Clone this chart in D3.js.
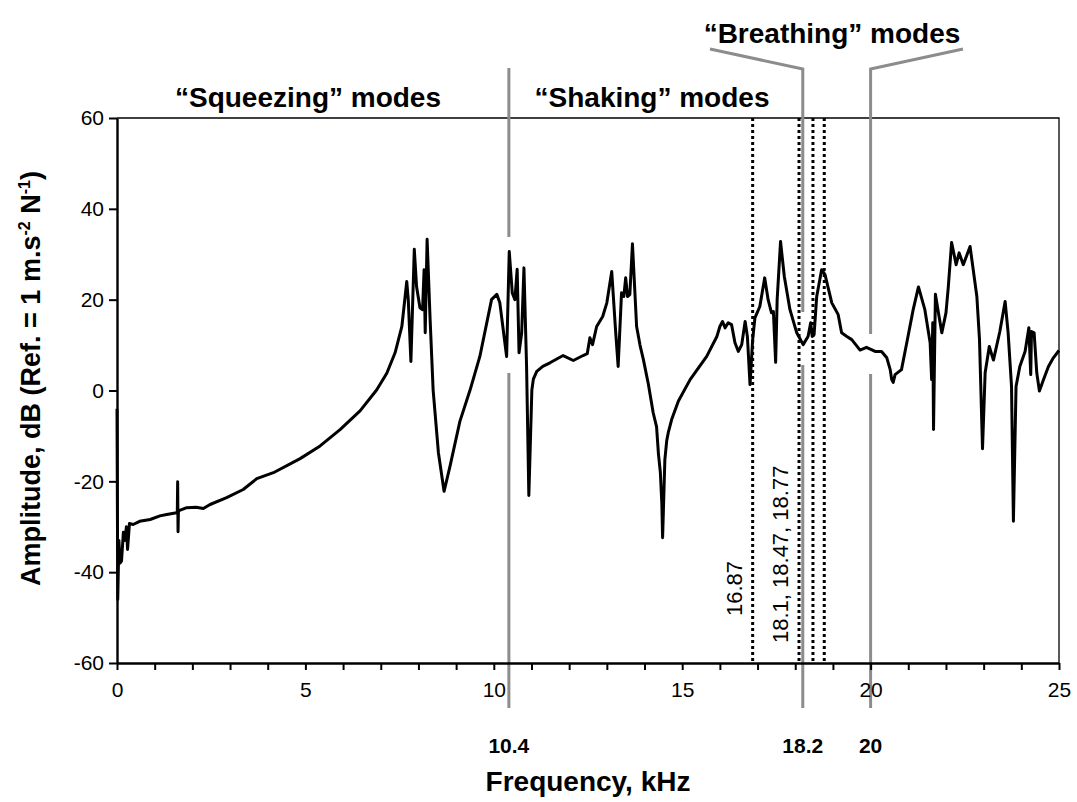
<!DOCTYPE html>
<html><head><meta charset="utf-8">
<script src="https://cdn.jsdelivr.net/npm/d3@7"></script>
<style>
body{margin:0;background:#fff}
text{font-family:"Liberation Sans",Arial,sans-serif;fill:#000}
</style>
</head><body>
<svg id="chart" width="1077" height="802"></svg>
<script>
// ---- data ----
const freq = [0,0.02,0.05,0.08,0.12,0.17,0.21,0.25,0.28,0.33,0.43,0.6,0.88,1.14,1.32,1.58,1.6,1.61,1.62,1.63,1.85,2.1,2.29,2.47,2.91,3.35,3.71,4.15,4.86,5.39,5.92,6.45,6.89,7.16,7.38,7.56,7.69,7.73,7.80,7.89,7.95,8.04,8.11,8.15,8.18,8.23,8.31,8.39,8.53,8.68,8.84,9.10,9.37,9.63,9.94,10.08,10.16,10.34,10.41,10.49,10.56,10.62,10.67,10.74,10.80,10.87,10.93,11.01,11.05,11.14,11.3,11.49,11.84,12.11,12.37,12.48,12.55,12.62,12.73,12.89,13.0,13.13,13.23,13.30,13.39,13.45,13.50,13.55,13.61,13.68,13.79,13.88,13.97,14.1,14.23,14.32,14.37,14.42,14.46,14.48,14.54,14.59,14.63,14.72,14.9,15.21,15.65,15.92,16.00,16.07,16.14,16.22,16.31,16.40,16.49,16.58,16.67,16.73,16.80,16.87,16.93,17.06,17.19,17.28,17.37,17.42,17.48,17.52,17.61,17.71,17.86,18.04,18.21,18.34,18.41,18.45,18.50,18.57,18.70,18.79,18.97,19.14,19.23,19.37,19.50,19.72,19.89,20.12,20.29,20.43,20.52,20.56,20.60,20.65,20.82,20.96,21.13,21.27,21.44,21.58,21.62,21.65,21.67,21.72,21.80,21.89,22.00,22.06,22.15,22.27,22.35,22.46,22.64,22.82,22.89,22.97,23.04,23.15,23.26,23.43,23.57,23.65,23.74,23.79,23.86,23.96,24.10,24.20,24.25,24.27,24.34,24.41,24.48,24.59,24.72,24.85,25.0];
const amp = [-4,-46,-33,-38,-37.5,-31.2,-33,-30,-35,-29.3,-29.5,-28.8,-28.4,-27.6,-27.3,-26.9,-26.9,-20.1,-31.1,-26.5,-25.8,-25.7,-26.0,-25.1,-23.6,-21.8,-19.4,-18.1,-15.0,-12.2,-8.6,-4.5,0.1,3.8,8.3,14.1,24.0,20,6.4,31.1,22.9,18.2,17.8,26.6,12.7,33.3,15.6,0.1,-13.7,-22.2,-16.6,-6.8,0.1,7.5,20,21.2,19.3,7.5,30.6,21.5,20,26.7,8.3,12.7,27.0,5.3,-23.1,0.1,2.5,4.2,5.3,6.1,7.7,6.6,7.7,8.1,11.6,10.1,14.1,16.3,19.3,26.2,13.4,5.3,21.5,20.7,24.8,20.7,21.1,32.3,14.1,10,6.8,1.5,-4.9,-8,-14,-18,-25,-32.4,-15.2,-11,-9.3,-6.4,-2.3,2.4,7.5,11.9,14.1,15.2,13.8,14.9,14.5,10.5,8.6,10.1,15.2,11.9,1.3,11.2,16.0,18.5,24.8,20,17.1,17.4,6.2,20,32.8,25.1,17.8,12.7,10.1,11.9,14.9,11.9,12.3,20.7,26.6,25.5,19.3,16.7,12.7,11.9,11.2,8.9,9.5,8.6,8.6,7.2,4.6,2.4,1.8,3.5,4.6,10.5,17.8,22.8,17.8,10.5,2.4,14.9,-8.6,21.2,17.1,12.7,17.1,22.6,32.6,27.7,30.3,27.7,31.7,20.7,11.2,-12.8,3.9,9.7,6.7,13.0,19.6,12.7,0.9,-28.8,0.9,5.3,8.6,13.8,3.5,13.0,12.7,3.9,-0.1,2.4,5.3,7.2,8.8];

const xMajorTicks = [0,5,10,15,20,25];
const xMinorTicks = d3.range(0, 26, 1);
const yTicks = [-60,-40,-20,0,20,40,60];
const modeBounds = [10.4, 18.2, 20];
const modeBoundLabels = ["10.4","18.2","20"];
const dottedFreqs = [16.87, 18.1, 18.47, 18.77];
const dottedLabels = ["16.87","18.1, 18.47, 18.77"];
const dottedLabelFreqs = [16.87, 18.1];
const regionLabels = ["\u201CSqueezing\u201D modes","\u201CShaking\u201D modes","\u201CBreathing\u201D modes"];

// ---- layout ----
const L = 117, R = 1059, T = 118, B = 663;
const svg = d3.select("#chart");
svg.append("rect").attr("width",1077).attr("height",802).attr("fill","#fff");
const x = d3.scaleLinear().domain([0,25]).range([L,R]);
const y = d3.scaleLinear().domain([-60,60]).range([B,T]);
const FONT = "'Liberation Sans',Arial,sans-serif";

// frame top/right
svg.append("path").attr("d",`M${L},${T}H${R}V${B}`).attr("fill","none").attr("stroke","#000").attr("stroke-width",1.3);

// dotted lines
svg.append("g").selectAll("line").data(dottedFreqs).join("line")
  .attr("x1",d=>x(d)).attr("x2",d=>x(d)).attr("y1",y(60)).attr("y2",y(-60))
  .attr("stroke","#000").attr("stroke-width",3).attr("stroke-dasharray","3,3");

// grey mode boundary lines (with gaps around curve)
const gray = "#8c8c8c";
const segs = [
  [[x(10.4),68],[x(10.4),237]], [[x(10.4),373],[x(10.4),708]],
  [[710,49],[x(18.2),69],[x(18.2),312]], [[x(18.2),365],[x(18.2),708]],
  [[963,49],[x(20),69],[x(20),334]], [[x(20),374],[x(20),708]]
];
svg.append("g").selectAll("path").data(segs).join("path")
  .attr("d",d=>d3.line()(d)).attr("fill","none").attr("stroke",gray).attr("stroke-width",3);

// curve
const pts = freq.map((f,i)=>[f,amp[i]]);
svg.append("path").datum(pts)
  .attr("d",d3.line().x(d=>x(d[0])).y(d=>y(d[1])))
  .attr("fill","none").attr("stroke","#000").attr("stroke-width",3).attr("stroke-linejoin","round");

// axes
const xAxis = svg.append("g").attr("transform",`translate(0,${B})`)
  .call(d3.axisBottom(x).tickValues(xMinorTicks).tickFormat(d=>xMajorTicks.includes(d)?String(d):"").tickSize(7).tickSizeOuter(0).tickPadding(12));
xAxis.select(".domain").attr("stroke-width",2.4);
xAxis.selectAll(".tick line").attr("stroke-width",2);
xAxis.selectAll("text").style("font-size","21px").style("font-family",FONT).attr("fill","#000");

const yAxis = svg.append("g").attr("transform",`translate(${L},0)`)
  .call(d3.axisLeft(y).tickValues(yTicks).tickFormat(d=>String(d)).tickSize(8).tickSizeOuter(0).tickPadding(5));
yAxis.select(".domain").attr("stroke-width",2.4);
yAxis.selectAll(".tick line").attr("stroke-width",2);
yAxis.selectAll("text").style("font-size","21px").style("font-family",FONT).attr("fill","#000");

// bold boundary values
svg.append("g").selectAll("text").data(modeBounds).join("text")
  .attr("x",d=>x(d)).attr("y",753).attr("text-anchor","middle")
  .style("font-size","21px").style("font-weight","bold")
  .text((d,i)=>modeBoundLabels[i]);

// axis titles
svg.append("text").attr("x",(L+R)/2).attr("y",791).attr("text-anchor","middle")
  .style("font-size","28px").style("font-weight","bold").text("Frequency, kHz");

const yt = svg.append("text").attr("transform",`translate(40,${(T+B)/2 - 12}) rotate(-90)`)
  .attr("text-anchor","middle").style("font-size","27px").style("font-weight","bold");
yt.append("tspan").text("Amplitude, dB (Ref. = 1 m.s");
yt.append("tspan").attr("dy",-10).style("font-size","16px").text("-2");
yt.append("tspan").attr("dy",10).text(" N");
yt.append("tspan").attr("dy",-10).style("font-size","16px").text("-1");
yt.append("tspan").attr("dy",10).text(")");

// region labels
const regionPos = [[308,107],[652,107],[832,43]];
svg.append("g").selectAll("text").data(regionLabels).join("text")
  .attr("x",(d,i)=>regionPos[i][0]).attr("y",(d,i)=>regionPos[i][1]).attr("text-anchor","middle")
  .style("font-size","28px").style("font-weight","bold").text(d=>d);

// rotated frequency labels
const dlY = [616,643];
svg.append("g").selectAll("text").data(dottedLabels).join("text")
  .attr("transform",(d,i)=>`translate(${x(dottedLabelFreqs[i]) - 11},${dlY[i]}) rotate(-90)`)
  .style("font-size","22px").text(d=>d);
</script>
</body></html>
